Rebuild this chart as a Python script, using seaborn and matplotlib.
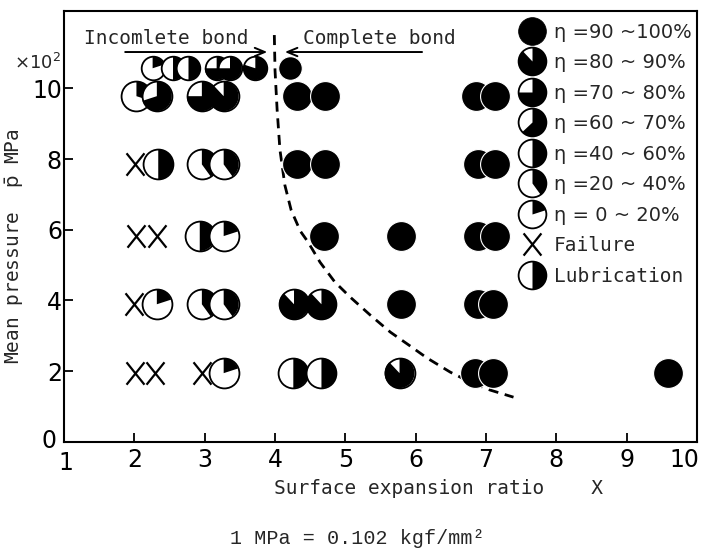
import numpy as np
import pandas as pd
import matplotlib
matplotlib.use("Agg")
import matplotlib.pyplot as plt
import matplotlib.transforms as mtransforms
from matplotlib.path import Path
from matplotlib.lines import Line2D
from matplotlib.legend_handler import HandlerTuple
import seaborn as sns

# circles: x, mean pressure (x10^2 MPa), black share of the circle (eta class)
pie_x = [2.26, 2.55, 2.77, 3.17, 3.36, 3.72, 4.21,
         2.03, 2.32, 2.96, 3.27, 4.31, 4.71, 6.86, 7.12,
         2.34, 2.96, 3.27, 4.31, 4.71, 6.88, 7.13,
         2.93, 3.27, 4.69, 5.79, 6.88, 7.13,
         2.32, 2.96, 3.27, 4.27, 4.66, 5.79, 6.88, 7.10,
         3.27, 4.26, 4.66, 5.77, 6.84, 7.10, 9.59]
pie_y = [10.57, 10.57, 10.57, 10.57, 10.57, 10.57, 10.57,
         9.78, 9.78, 9.78, 9.78, 9.78, 9.78, 9.78, 9.78,
         7.85, 7.85, 7.85, 7.85, 7.85, 7.85, 7.85,
         5.82, 5.82, 5.82, 5.82, 5.82, 5.82,
         3.89, 3.89, 3.89, 3.89, 3.89, 3.89, 3.89, 3.89,
         1.94, 1.94, 1.94, 1.94, 1.94, 1.94, 1.94]
pie_eta = [0.2, 0.5, 0.5, 0.75, 0.75, 0.8, 1.0,
           0.3, 0.7, 0.75, 0.88, 1.0, 1.0, 1.0, 1.0,
           0.5, 0.4, 0.4, 1.0, 1.0, 1.0, 1.0,
           0.5, 0.2, 1.0, 1.0, 1.0, 1.0,
           0.2, 0.4, 0.4, 0.88, 0.88, 1.0, 1.0, 1.0,
           0.2, 0.5, 0.5, 0.88, 1.0, 1.0, 1.0]
pie_small = [True] * 7 + [False] * 36

# failures
fail_x = [2.01, 2.03, 2.32, 1.995, 2.01, 2.29, 2.96]
fail_y = [7.85, 5.82, 5.82, 3.89, 1.94, 1.94, 1.94]

# boundary between incomplete and complete bond
curve_x = [3.99, 4.00, 4.03, 4.07, 4.14, 4.23, 4.36, 4.47, 4.64, 4.85,
           5.07, 5.35, 5.64, 5.92, 6.16, 6.49, 6.77, 7.06, 7.39]
curve_y = [11.51, 10.51, 9.39, 8.26, 7.26, 6.55, 5.96, 5.65, 5.08, 4.52,
           4.09, 3.59, 3.10, 2.71, 2.37, 1.97, 1.69, 1.46, 1.26]

legend_eta = [1.0, 0.88, 0.75, 0.63, 0.5, 0.4, 0.2]
legend_labels = ["η =90 ~100%", "η =80 ~ 90%", "η =70 ~ 80%", "η =60 ~ 70%",
                 "η =40 ~ 60%", "η =20 ~ 40%", "η = 0 ~ 20%"]

sns.set_theme(style="ticks")
plt.rcParams['font.family'] = ['DejaVu Sans']
MONO = 'DejaVu Sans Mono'


def pie_marker(frac):
    # black part, clockwise from 12 o'clock
    t = np.radians(np.linspace(90, 90 - 360 * frac, 80))
    verts = np.column_stack([np.cos(t), np.sin(t)])
    verts = np.vstack([[0, 0], verts, [0, 0]])
    return Path(verts)


X_PATH = Path([(-0.4, -0.5), (0.4, 0.5), (-0.4, 0.5), (0.4, -0.5)],
              [Path.MOVETO, Path.LINETO, Path.MOVETO, Path.LINETO])

fig = plt.figure(figsize=(7.07, 5.48), dpi=100)
ax = fig.add_axes([0.0905, 0.194, 0.8955, 0.7865])

sns.lineplot(x=curve_x, y=curve_y, sort=False, estimator=None, ax=ax,
             color='black', lw=2, linestyle=(0, (3.6, 2.4)), zorder=2)

df = pd.DataFrame({'x': pie_x, 'y': pie_y, 'eta': pie_eta, 'small': pie_small})
df = df.sort_values(['y', 'x'])
for i, r in df.iterrows():
    one = df.loc[[i]]
    s = 17 ** 2 if r['small'] else 21.5 ** 2
    if r['eta'] >= 1:
        sns.scatterplot(data=one, x='x', y='y', ax=ax, s=s, marker='o',
                        color='black', edgecolor='white', linewidth=0.8,
                        legend=False, zorder=3)
    else:
        sns.scatterplot(data=one, x='x', y='y', ax=ax, s=s, marker='o',
                        color='white', edgecolor='black', linewidth=1.3,
                        legend=False, zorder=3)
        sns.scatterplot(data=one, x='x', y='y', ax=ax, s=s,
                        marker=pie_marker(r['eta']), color='black',
                        edgecolor='none', linewidth=0, legend=False, zorder=3)

sns.scatterplot(x=fail_x, y=fail_y, ax=ax, marker=X_PATH, s=260,
                color='black', edgecolor='black', linewidth=1.6,
                legend=False, zorder=3)

ax.set_xlim(1, 10)
ax.set_ylim(0, 12.2)
ax.set_xticks(range(1, 11))
ax.set_yticks(range(0, 11, 2))
ax.tick_params(direction='in', length=6.5, width=1.3, labelsize=17,
               colors='black')
ax.tick_params(axis='y', pad=1.5)
ax.tick_params(axis='x', pad=4.5)
for sp in ax.spines.values():
    sp.set_visible(True)
    sp.set_linewidth(1.5)
    sp.set_color('black')


def nudge(label, dx, dy):
    label.set_transform(label.get_transform() +
                        mtransforms.ScaledTranslation(dx / 72, dy / 72,
                                                      fig.dpi_scale_trans))

# keep the last x tick label inside the picture, ease the corner labels apart
nudge(ax.get_xticklabels()[-1], -9, 0)
nudge(ax.get_xticklabels()[0], 1.5, -2)
nudge(ax.get_yticklabels()[0], -4, 2)

ax.set_xlabel("Surface expansion ratio    X", fontfamily=MONO, fontsize=14)
ax.xaxis.set_label_coords(0.592, -0.087)
ax.set_ylabel(r"Mean pressure  $\bar{\mathrm{p}}$ MPa", fontfamily=MONO,
              fontsize=14)
ax.yaxis.set_label_coords(-0.06, 0.454)
ax.text(-0.042, 0.879, r"×10$^2$", transform=ax.transAxes, ha='center',
        va='center', fontsize=13)

# bond region notes
ax.text(2.457, 11.42, "Incomlete bond", ha='center', va='center',
        fontfamily=MONO, fontsize=14)
ax.annotate("", xy=(3.89, 11.03), xytext=(1.87, 11.03),
            arrowprops=dict(arrowstyle='->,head_length=0.6,head_width=0.25',
                            lw=1.4, color='black', shrinkA=0, shrinkB=0))
ax.text(5.486, 11.42, "Complete bond", ha='center', va='center',
        fontfamily=MONO, fontsize=14)
ax.annotate("", xy=(4.14, 11.03), xytext=(6.09, 11.03),
            arrowprops=dict(arrowstyle='->,head_length=0.6,head_width=0.25',
                            lw=1.4, color='black', shrinkA=0, shrinkB=0))

# legend with pie symbols
def pie_handle(eta):
    if eta >= 1:
        return Line2D([], [], marker='o', markersize=20, linestyle='none',
                      markerfacecolor='black', markeredgecolor='black',
                      markeredgewidth=0.5)
    base = Line2D([], [], marker='o', markersize=20, linestyle='none',
                  markerfacecolor='white', markeredgecolor='black',
                  markeredgewidth=1.3)
    wedge = Line2D([], [], marker=pie_marker(eta), markersize=20,
                   linestyle='none', markerfacecolor='black',
                   markeredgewidth=0)
    return (base, wedge)

handles = [pie_handle(e) for e in legend_eta]
handles.append(Line2D([], [], marker=X_PATH, markersize=16, linestyle='none',
                      markeredgecolor='black', markeredgewidth=1.6))
handles.append(pie_handle(0.5))
labels = legend_labels + ["Failure", "Lubrication"]
leg = ax.legend(handles, labels, handler_map={tuple: HandlerTuple(ndivide=1, pad=0)},
                loc='upper left', bbox_to_anchor=(0.716, 0.972), frameon=False,
                fontsize=14, handlelength=1.5, handletextpad=0.4,
                labelspacing=0.59, borderpad=0, borderaxespad=0)
for t in leg.get_texts()[-2:]:
    t.set_fontfamily(MONO)

fig.text(357 / 707, 1 - 538 / 548, "1 MPa = 0.102 kgf/mm²", ha='center',
         va='center', fontfamily='Liberation Mono', fontsize=14.5)

fig.savefig("out.png", dpi=100)
